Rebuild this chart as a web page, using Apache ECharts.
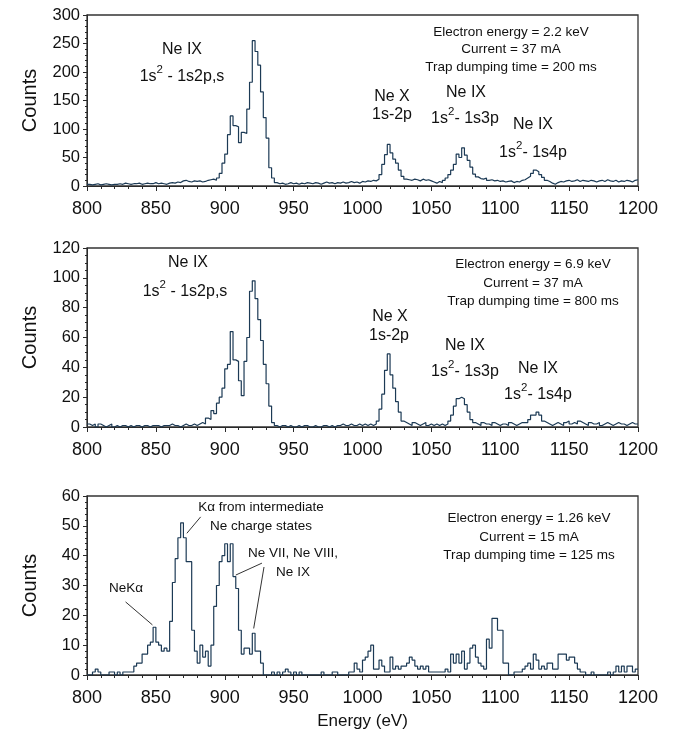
<!DOCTYPE html>
<html>
<head>
<meta charset="utf-8">
<script src="https://cdn.jsdelivr.net/npm/echarts@6/dist/echarts.min.js"></script>
<style>
html,body{margin:0;padding:0;background:#fff;}
#c{width:673px;height:738px;}
</style>
</head>
<body>
<div id="c"></div>
<script>
// ---- data ----
const binStart = 800;   // eV, left edge of first bin
const binWidth = 2;     // eV
const xTicks = [800, 850, 900, 950, 1000, 1050, 1100, 1150, 1200];

// Panel 1: Electron energy 2.2 keV
const counts1 = [
  3,2,3,4,2,3,4,3,2,3,3,
  4,3,5,4,3,4,4,5,3,4,5,4,4,6,4,5,4,3,5,6,
  5,7,6,9,10,8,7,9,8,9,7,8,10,11,
  12,10,14,22,40,56,90,123,106,104,76,94,92,135,182,255,236,212,165,120,84,32,14,6,
  4,5,3,4,6,4,5,3,5,4,6,5,4,6,5,3,5,7,5,6,4,6,5,7,5,6,8,6,7,5,8,7,9,8,
  10,9,12,20,38,55,73,58,47,40,28,17,12,
  11,10,12,11,9,12,10,11,9,7,5,8,6,10,
  14,20,28,38,56,50,67,54,45,33,21,16,13,
  12,14,10,11,9,10,8,9,7,8,9,6,8,7,10,
  11,14,17,22,28,25,20,15,10,8,5,3,6,
  8,7,9,10,8,9,11,8,10,9,8,10,9,7,9,10,8,11,9,8,10,7,9,8,10,9,7,10,11
];

// Panel 2: Electron energy 6.9 keV
const counts2 = [
  2,1,2,0,2,1,0,1,2,0,1,0,1,1,0,1,0,1,1,0,1,1,0,1,1,1,0,1,1,1,2,1,1,0,1,2,1,1,2,1,
  2,3,2,6,5,11,9,16,20,26,39,42,64,45,44,31,21,44,60,91,98,86,72,58,42,29,14,3,1,
  0,1,1,0,1,0,0,1,0,1,1,0,0,1,0,0,1,1,0,1,0,1,1,2,1,1,2,1,1,2,1,2,1,
  2,1,2,4,12,22,38,49,35,26,17,10,4,3,
  2,1,3,2,1,2,3,1,2,1,2,1,2,
  1,2,4,8,14,19,20,19,15,10,5,3,
  2,1,3,2,2,1,3,2,1,2,2,1,3,2,1,2,3,
  3,3,5,8,8,10,8,4,3,
  2,1,2,3,2,1,3,4,2,3,2,4,3,2,1,3,2,2,3,1,2,3,2,1,2,3,2,2,1,2,3,2,2
];

// Panel 3: Electron energy 1.26 keV
const counts3 = [
  0,0,1,2,1,0,0,0,1,1,0,1,0,1,1,
  1,1,3,4,4,7,7,10,11,16,11,10,8,9,8,18,31,39,46,51,46,38,38,15,8,4,10,6,8,3,
  10,23,30,38,40,44,38,44,33,29,15,7,9,9,7,14,8,8,4,0,
  0,0,1,0,1,0,1,2,1,0,1,0,1,0,0,0,0,0,0,0,1,0,0,0,1,1,0,0,0,0,
  1,1,4,2,1,5,6,8,10,2,
  2,5,3,1,1,6,2,3,2,3,
  3,4,6,5,3,2,3,2,3,1,
  1,1,1,1,1,2,1,7,4,7,
  4,8,2,4,9,10,6,4,3,2,
  12,9,19,19,15,15,4,4,0,0,
  1,1,1,2,3,4,2,7,5,2,
  3,2,4,4,2,2,7,7,7,5,
  6,6,4,2,1,1,0,0,1,0,
  0,0,0,0,1,0,1,3,1,3,
  1,3,3,1,2
];

const yMax = [300, 120, 60];
const yInterval = [50, 20, 10];
const yMinorSplit = [5, 4, 5];

// arrows in panel 3 (data coordinates: [energy, counts])
const arrows3 = [
  [[828, 24.5], [847.5, 16.8]],
  [[882.5, 53], [872.5, 47.5]],
  [[927, 37.5], [908, 33.5]],
  [[928.5, 36.2], [921, 15.6]]
];

// ---- chart ----
function toSteps(counts) {
  const pts = counts.map((c, i) => [binStart + i * binWidth, c]);
  pts.push([binStart + counts.length * binWidth, counts[counts.length - 1]]);
  return pts;
}

const FONT = '"Liberation Sans", Arial, Helvetica, sans-serif';
const grids = [
  { left: 87, width: 551, top: 15, height: 171 },
  { left: 87, width: 551, top: 248, height: 179 },
  { left: 87, width: 551, top: 496, height: 179 }
].map(g => Object.assign(g, { show: true, borderColor: '#333', borderWidth: 1.3, backgroundColor: 'transparent' }));

const xAxes = [0, 1, 2].map(i => ({
  type: 'value', gridIndex: i, min: xTicks[0], max: xTicks[xTicks.length - 1], interval: 50,
  axisLine: { show: true, onZero: false, lineStyle: { color: '#2a2a2a', width: 1 } },
  axisTick: { show: true, inside: false, length: 5, lineStyle: { color: '#2a2a2a' } },
  minorTick: { show: true, splitNumber: 5, length: 3, lineStyle: { color: '#2a2a2a' } },
  splitLine: { show: false },
  axisLabel: { fontSize: 18, color: '#111', fontFamily: FONT, margin: 14, formatter: v => String(v) },
  name: i === 2 ? 'Energy (eV)' : '',
  nameLocation: 'middle', nameGap: 38,
  nameTextStyle: { fontSize: 17, color: '#111', fontFamily: FONT }
}));

const yAxes = [0, 1, 2].map(i => ({
  type: 'value', gridIndex: i, min: 0, max: yMax[i], interval: yInterval[i],
  axisLine: { show: true, lineStyle: { color: '#2a2a2a', width: 1 } },
  axisTick: { show: true, inside: false, length: 4, lineStyle: { color: '#2a2a2a' } },
  minorTick: { show: true, splitNumber: yMinorSplit[i], length: 2, lineStyle: { color: '#2a2a2a' } },
  splitLine: { show: false },
  axisLabel: { fontSize: 16.5, color: '#111', fontFamily: FONT, margin: 7, formatter: v => String(v) },
  name: 'Counts', nameLocation: 'middle', nameGap: 47, nameRotate: 90,
  nameTextStyle: { fontSize: 20, color: '#111', fontFamily: FONT }
}));

const lineColor = '#1c3a55';
const series = [counts1, counts2, counts3].map((c, i) => ({
  type: 'line', xAxisIndex: i, yAxisIndex: i, step: 'end', symbol: 'none',
  data: toSteps(c), lineStyle: { color: lineColor, width: 1.2 }, animation: false,
  markLine: i === 2 ? {
    silent: true, symbol: ['none', 'arrow'], symbolSize: [0, 7], animation: false,
    label: { show: false },
    lineStyle: { color: '#333', width: 1, type: 'solid' },
    data: arrows3.map(a => [{ coord: a[0] }, { coord: a[1] }])
  } : undefined
}));

function txt(x, y, s, size) {
  return { type: 'text', x: x, y: y, silent: true,
    style: { text: s, fontSize: size || 16, fontFamily: FONT, fill: '#111', align: 'center', verticalAlign: 'middle' } };
}
function sup(x, y, a, b, size) {
  size = size || 16;
  return { type: 'text', x: x, y: y, silent: true,
    style: { text: '{b|' + a + '}{s|2}{b|' + b + '}', fontFamily: FONT, fill: '#111', align: 'center', verticalAlign: 'middle',
      rich: {
        b: { fontSize: size, fontFamily: FONT, fill: '#111', lineHeight: 26, verticalAlign: 'middle' },
        s: { fontSize: 11.5, fontFamily: FONT, fill: '#111', lineHeight: 15, verticalAlign: 'top' }
      } } };
}

const graphic = [
  // panel 1
  txt(182, 50, 'Ne IX'), sup(182, 77, '1s', ' - 1s2p,s'),
  txt(511, 32, 'Electron energy = 2.2 keV', 13.5), txt(511, 49.5, 'Current = 37 mA', 13.5), txt(511, 67, 'Trap dumping time = 200 ms', 13.5),
  txt(392, 97, 'Ne X'), txt(392, 115, '1s-2p'),
  txt(466, 93, 'Ne IX'), sup(465, 119, '1s', '- 1s3p'),
  txt(533, 125, 'Ne IX'), sup(533, 152.5, '1s', '- 1s4p'),
  // panel 2
  txt(188, 263, 'Ne IX'), sup(185, 292, '1s', ' - 1s2p,s'),
  txt(533, 264, 'Electron energy = 6.9 keV', 13.5), txt(533, 283, 'Current = 37 mA', 13.5), txt(533, 301, 'Trap dumping time = 800 ms', 13.5),
  txt(390, 317, 'Ne X'), txt(389, 336, '1s-2p'),
  txt(465, 346, 'Ne IX'), sup(465, 372, '1s', '- 1s3p'),
  txt(538, 369, 'Ne IX'), sup(538, 395, '1s', '- 1s4p'),
  // panel 3
  txt(261, 507, 'K\u03b1 from intermediate', 13.5), txt(261, 526, 'Ne charge states', 13.5),
  txt(293, 553, 'Ne VII, Ne VIII,', 13.5), txt(293, 572, 'Ne IX', 13.5),
  txt(126, 588, 'NeK\u03b1', 13.5),
  txt(529, 518, 'Electron energy = 1.26 keV', 13.5), txt(529, 537, 'Current = 15 mA', 13.5), txt(529, 555, 'Trap dumping time = 125 ms', 13.5)
];

const chart = echarts.init(document.getElementById('c'), null, { renderer: 'canvas' });
chart.setOption({
  animation: false,
  backgroundColor: '#ffffff',
  grid: grids, xAxis: xAxes, yAxis: yAxes, series: series, graphic: graphic
});
</script>
</body>
</html>
